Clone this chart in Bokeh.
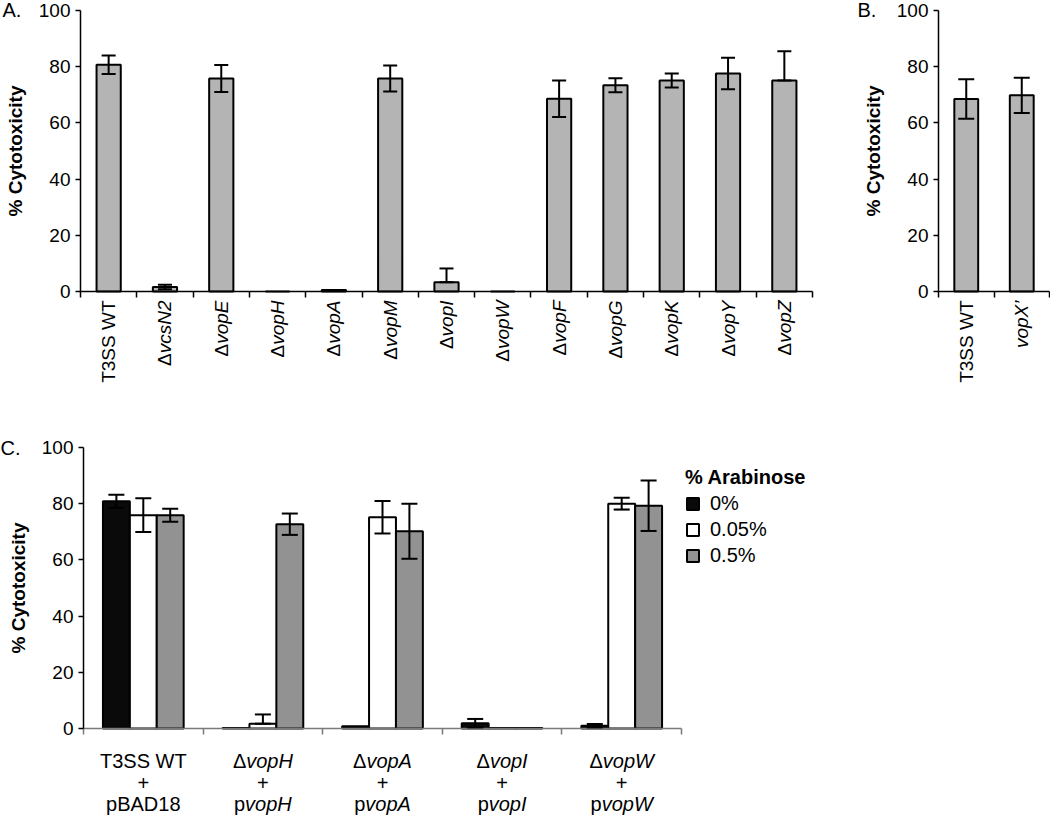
import math
import numpy as np
from bokeh.plotting import figure
from bokeh.models import (ColumnDataSource, Range1d, FixedTicker, Whisker, TeeHead,
                          Label, LabelSet, Legend, LegendItem, CustomJSTickFormatter)
from bokeh.layouts import column, row
from bokeh.core.properties import value
from bokeh.embed import file_html
from bokeh.resources import INLINE

FONT = "Liberation Sans"

# ---------------- data ----------------
# Panel A
a_prefix = ["", "Δ", "Δ", "Δ", "Δ", "Δ", "Δ", "Δ", "Δ", "Δ", "Δ", "Δ", "Δ"]
a_names = ["T3SS WT", "vcsN2", "vopE", "vopH", "vopA", "vopM", "vopI",
           "vopW", "vopF", "vopG", "vopK", "vopY", "vopZ"]
a_styles = ["normal"] + ["italic"] * 12
a_values = [80.7, 1.6, 75.8, 0.0, 0.5, 75.8, 3.3, 0.0, 68.6, 73.4, 75.1, 77.6, 75.1]
a_err_hi = [3.3, 0.8, 4.8, 0.0, 0.0, 4.6, 4.9, 0.0, 6.5, 2.5, 2.5, 5.6, 10.4]
a_err_lo = [3.3, 0.8, 4.8, 0.0, 0.0, 4.6, 0.0, 0.0, 6.5, 2.5, 2.5, 5.6, 0.0]

# Panel B
b_names = ["T3SS WT", "vopX’"]
b_styles = ["normal", "italic"]
b_values = [68.5, 69.8]
b_err = [7.0, 6.3]

# Panel C
c_line1_pre = ["", "Δ", "Δ", "Δ", "Δ"]
c_line1_name = ["T3SS WT", "vopH", "vopA", "vopI", "vopW"]
c_line3_pre = ["pBAD18", "p", "p", "p", "p"]
c_line3_name = ["", "vopH", "vopA", "vopI", "vopW"]
c_name_styles = ["normal", "italic", "italic", "italic", "italic"]
c_series = ["0%", "0.05%", "0.5%"]
c_ara0 = [80.9, 0.2, 0.8, 1.9, 1.0]
c_ara0_err_hi = [2.3, 0.0, 0.0, 1.5, 0.6]
c_ara0_err_lo = [2.3, 0.0, 0.0, 1.5, 0.6]
c_ara005 = [75.9, 1.7, 75.2, 0.2, 80.0]
c_ara005_err_hi = [6.0, 3.3, 5.8, 0.0, 2.1]
c_ara005_err_lo = [6.0, 0.0, 5.8, 0.0, 2.1]
c_ara05 = [75.9, 72.7, 70.2, 0.2, 79.3]
c_ara05_err_hi = [2.3, 3.8, 9.8, 0.0, 9.0]
c_ara05_err_lo = [2.3, 3.8, 9.8, 0.0, 9.0]

y_ticks = [0, 20, 40, 60, 80, 100]

# ---------------- helpers ----------------
ARIAL_W = {
    " ": 278, "’": 222, "'": 191, "+": 584, ".": 278, "%": 889,
    "0": 556, "1": 556, "2": 556, "3": 556, "4": 556, "5": 556, "6": 556,
    "7": 556, "8": 556, "9": 556,
    "A": 667, "B": 667, "C": 722, "D": 722, "E": 667, "F": 611, "G": 778,
    "H": 722, "I": 278, "K": 667, "M": 833, "N": 722, "S": 667, "T": 611,
    "W": 944, "X": 667, "Y": 667, "Z": 611,
    "a": 556, "c": 500, "o": 556, "p": 556, "s": 500, "v": 500,
    "Δ": 668,
}


def text_w(s, size):
    return sum(ARIAL_W.get(ch, 556) for ch in s) * size / 1000.0


def base_fig(width, height, n, x0px, x1px, ytop_px, y0px, xaxis_color="black"):
    """Figure whose frame fills the canvas; axes are pinned at 0 so that the
    category texts below the axis stay inside the drawing area."""
    sx = (x1px - x0px) / n
    sy = (y0px - ytop_px) / 100.0
    p = figure(width=width, height=height,
               x_range=Range1d(-x0px / sx, (width - x0px) / sx),
               y_range=Range1d(-(height - y0px) / sy, 100 + ytop_px / sy),
               output_backend="svg", toolbar_location=None, title=None,
               min_border_left=0, min_border_right=0, min_border_top=0, min_border_bottom=0)
    p.outline_line_color = None
    p.xgrid.visible = False
    p.ygrid.visible = False
    p.background_fill_color = "white"
    p.border_fill_color = "white"
    # y axis
    p.yaxis.fixed_location = 0
    p.yaxis.bounds = (0, 100)
    p.yaxis.ticker = FixedTicker(ticks=y_ticks)
    p.yaxis.minor_tick_line_color = None
    p.yaxis.major_tick_in = 0
    p.yaxis.major_tick_out = 5
    p.yaxis.major_tick_line_width = 1.5
    p.yaxis.axis_line_width = 1.5
    p.yaxis.axis_line_color = "black"
    p.yaxis.major_tick_line_color = "black"
    p.yaxis.major_label_text_font = FONT
    p.yaxis.major_label_text_font_size = "19px"
    p.yaxis.major_label_text_color = "black"
    p.yaxis.major_label_standoff = 5
    p.yaxis.axis_label = "% Cytotoxicity"
    p.yaxis.axis_label_text_font = FONT
    p.yaxis.axis_label_text_font_size = "19px"
    p.yaxis.axis_label_text_font_style = "bold"
    p.yaxis.axis_label_text_color = "black"
    p.yaxis.axis_label_standoff = 10
    # x axis (ticks at category boundaries, labels drawn separately)
    p.xaxis.fixed_location = 0
    p.xaxis.bounds = (0, n)
    p.xaxis.ticker = FixedTicker(ticks=list(range(n + 1)))
    p.xaxis.formatter = CustomJSTickFormatter(code="return ''")
    p.xaxis.minor_tick_line_color = None
    p.xaxis.major_tick_in = 0
    p.xaxis.major_tick_out = 6
    p.xaxis.major_tick_line_width = 1.5
    p.xaxis.axis_line_width = 1.5
    p.xaxis.axis_line_color = xaxis_color
    p.xaxis.major_tick_line_color = xaxis_color
    p.xaxis.major_label_text_font_size = "1px"
    return p


def panel_letter(p, letter, x_off, y_off=1):
    p.add_layout(Label(x=0, y=100, text=letter, x_offset=x_off, y_offset=y_off,
                       text_font=FONT, text_font_size="20px", text_color="black",
                       text_align="left", text_baseline="middle"))


def rotated_labels(p, xs, prefixes, names, styles, size=19, gap=9):
    src = ColumnDataSource(dict(x=list(xs), y=[0] * len(xs), name=names, style=styles))
    p.add_layout(LabelSet(x="x", y="y", text="name", source=src, angle=math.pi / 2,
                          y_offset=-gap, text_align="right", text_baseline="middle",
                          text_font=value(FONT), text_font_size=f"{size}px",
                          text_font_style="style", text_color="black"))
    px, pt, po = [], [], []
    for x, pre, nm in zip(xs, prefixes, names):
        if pre:
            px.append(x)
            pt.append(pre)
            po.append(-(gap + text_w(nm, size)))
    if px:
        psrc = ColumnDataSource(dict(x=px, y=[0] * len(px), pre=pt, off=po))
        p.add_layout(LabelSet(x="x", y="y", text="pre", source=psrc, angle=math.pi / 2,
                              y_offset="off", text_align="right", text_baseline="middle",
                              text_font=value(FONT), text_font_size=f"{size}px",
                              text_color="black"))


def centered_two_part(p, xs, pres, names, styles, y_off, size=20):
    rx, rt, rs, ro = [], [], [], []
    for x, pre, nm, st in zip(xs, pres, names, styles):
        total = text_w(pre, size) + text_w(nm, size)
        start = -total / 2.0
        if pre:
            rx.append(x); rt.append(pre); rs.append("normal"); ro.append(start)
        if nm:
            rx.append(x); rt.append(nm); rs.append(st); ro.append(start + text_w(pre, size))
    src = ColumnDataSource(dict(x=rx, y=[0] * len(rx), t=rt, st=rs, off=ro))
    p.add_layout(LabelSet(x="x", y="y", text="t", source=src, x_offset="off", y_offset=y_off,
                          text_align="left", text_baseline="alphabetic",
                          text_font=value(FONT), text_font_size=f"{size}px",
                          text_font_style="st", text_color="black"))


def whiskers(p, xs, vals, hi, lo, head):
    bx, up, dn = [], [], []
    for x, v, h, l in zip(xs, vals, hi, lo):
        if h > 0 or l > 0:
            bx.append(x); up.append(v + h); dn.append(v - l)
    src = ColumnDataSource(dict(base=bx, upper=up, lower=dn))
    p.add_layout(Whisker(source=src, base="base", upper="upper", lower="lower",
                         dimension="height", line_width=2, line_color="black",
                         upper_head=TeeHead(size=head, line_width=2, line_color="black"),
                         lower_head=TeeHead(size=head, line_width=2, line_color="black"),
                         level="annotation"))


# ---------------- Panel A ----------------
nA = len(a_names)
xa = np.arange(nA) + 0.5
A_W, A_H = 835, 390
pA = base_fig(A_W, A_H, nA, 80, 812, 10, 291)
srcA = ColumnDataSource(dict(x=xa, top=a_values))
pA.vbar(x="x", top="top", width=0.43, source=srcA, fill_color="#b4b4b4",
        line_color="black", line_width=2)
whiskers(pA, xa, a_values, a_err_hi, a_err_lo, 14)
rotated_labels(pA, xa, a_prefix, a_names, a_styles)
panel_letter(pA, "A.", -78)

# ---------------- Panel B ----------------
nB = len(b_names)
xb = np.arange(nB) + 0.5
B_W = 1050 - A_W
pB = base_fig(B_W, A_H, nB, 938 - A_W, 1049 - A_W, 10, 291)
srcB = ColumnDataSource(dict(x=xb, top=b_values))
pB.vbar(x="x", top="top", width=0.43, source=srcB, fill_color="#b4b4b4",
        line_color="black", line_width=2)
whiskers(pB, xb, b_values, b_err, b_err, 16)
rotated_labels(pB, xb, ["", ""], b_names, b_styles)
panel_letter(pB, "B.", -81)

# ---------------- Panel C ----------------
nC = len(c_line1_name)
xc = np.arange(nC) + 0.5
bw = 0.225
C_W, C_H = 835, 818 - A_H
C_X0, C_X1, C_YT, C_Y0 = 83, 681, 447 - A_H, 728 - A_H
pC = base_fig(C_W, C_H, nC, C_X0, C_X1, C_YT, C_Y0, xaxis_color="#7a7a7a")
series = [
    (c_series[0], c_ara0, c_ara0_err_hi, c_ara0_err_lo, -bw, "#0a0a0a"),
    (c_series[1], c_ara005, c_ara005_err_hi, c_ara005_err_lo, 0.0, "#ffffff"),
    (c_series[2], c_ara05, c_ara05_err_hi, c_ara05_err_lo, bw, "#929292"),
]
items = []
for label, vals, ehi, elo, off, col in series:
    xs = xc + off
    src = ColumnDataSource(dict(x=xs, top=vals))
    r = pC.vbar(x="x", top="top", width=bw, source=src, fill_color=col,
                line_color="black", line_width=2)
    items.append(LegendItem(label=label, renderers=[r]))
for label, vals, ehi, elo, off, col in series:
    whiskers(pC, xc + off, vals, ehi, elo, 16)

centered_two_part(pC, xc, c_line1_pre, c_line1_name, c_name_styles, -39)
pC.add_layout(LabelSet(x="x", y="y", text="t",
                       source=ColumnDataSource(dict(x=xc, y=[0] * nC, t=["+"] * nC)),
                       y_offset=-61, text_align="center", text_baseline="alphabetic",
                       text_font=value(FONT), text_font_size="20px", text_color="black"))
centered_two_part(pC, xc, c_line3_pre, c_line3_name, c_name_styles, -82)
panel_letter(pC, "C.", -83, 0)

legend = Legend(items=items, location=(685, C_H - (567 - A_H)), title="% Arabinose",
                title_text_font=FONT, title_text_font_size="20px", title_text_font_style="bold",
                title_text_color="black", title_standoff=3,
                label_text_font=FONT, label_text_font_size="20px", label_text_color="black",
                glyph_width=15, glyph_height=15, label_standoff=10, spacing=3,
                padding=0, margin=0, border_line_color=None, background_fill_alpha=0)
pC.add_layout(legend)

layout = column(row(pA, pB), pC)
open("out.html", "w").write(file_html(layout, INLINE))
